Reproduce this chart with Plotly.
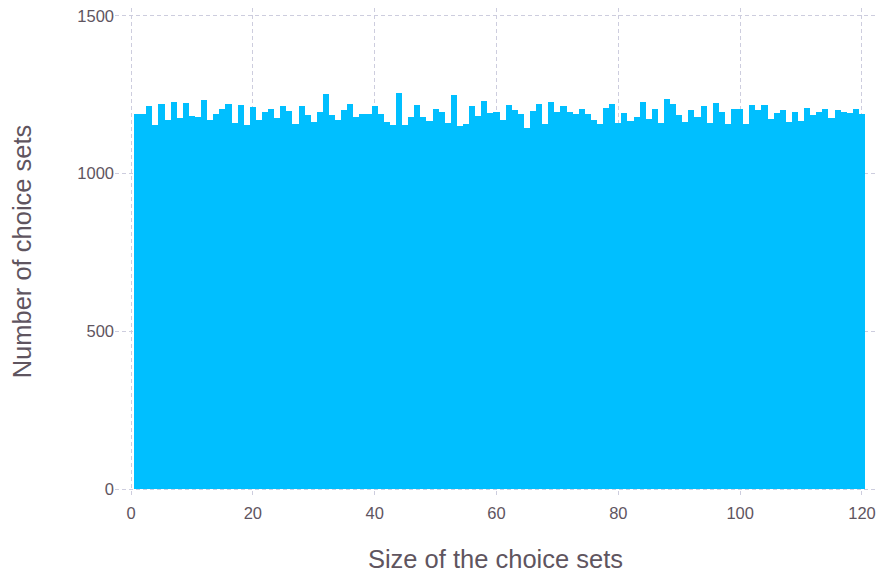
import plotly.graph_objects as go

sizes = list(range(1, 121))
counts = [
    1190, 1190, 1215, 1155, 1221, 1169, 1228, 1177, 1225, 1183,
    1180, 1234, 1169, 1190, 1206, 1221, 1161, 1218, 1155, 1212,
    1169, 1196, 1206, 1177, 1215, 1199, 1158, 1215, 1187, 1165,
    1196, 1253, 1187, 1171, 1202, 1221, 1180, 1190, 1190, 1215,
    1190, 1165, 1155, 1256, 1155, 1180, 1218, 1180, 1168, 1206,
    1196, 1161, 1250, 1152, 1158, 1215, 1183, 1231, 1193, 1196,
    1171, 1218, 1202, 1190, 1146, 1199, 1221, 1158, 1228, 1196,
    1215, 1196, 1190, 1206, 1190, 1171, 1158, 1209, 1221, 1161,
    1193, 1168, 1180, 1228, 1174, 1206, 1161, 1237, 1221, 1187,
    1165, 1202, 1180, 1215, 1161, 1225, 1196, 1158, 1206, 1206,
    1158, 1218, 1202, 1218, 1174, 1193, 1202, 1165, 1196, 1168,
    1209, 1187, 1196, 1206, 1177, 1202, 1196, 1193, 1206, 1190,
]
x_ticks = [0, 20, 40, 60, 80, 100, 120]
y_ticks = [0, 500, 1000, 1500]

FONT = "Liberation Sans, Arial, sans-serif"
TXT = "rgb(95,85,95)"

fig = go.Figure(
    go.Bar(
        x=sizes,
        y=counts,
        width=1,
        marker=dict(color="#00BFFF", line=dict(width=0)),
    )
)

grid = dict(
    showgrid=True,
    gridcolor="rgb(205,205,222)",
    gridwidth=1,
    griddash="4px,3px",
    zeroline=False,
    showline=False,
    ticks="",
    automargin=False,
    ticklabeloverflow="allow",
    tickfont=dict(family=FONT, size=16.5, color=TXT),
)

fig.update_layout(
    width=868,
    height=565,
    margin=dict(l=107, r=0, t=0, b=78),
    paper_bgcolor="white",
    plot_bgcolor="white",
    bargap=0,
    showlegend=False,
    xaxis=dict(
        range=[-2.63, 122.3],
        tickvals=x_ticks,
        ticklabelstandoff=6,
        title=dict(text="Size of the choice sets", standoff=36,
                   font=dict(family=FONT, size=25.5, color=TXT)),
        **grid,
    ),
    yaxis=dict(
        range=[-19, 1525],
        tickvals=y_ticks,
        title=dict(text="Number of choice sets", standoff=44,
                   font=dict(family=FONT, size=25.5, color=TXT)),
        **grid,
    ),
)

fig.write_html("out.html")
